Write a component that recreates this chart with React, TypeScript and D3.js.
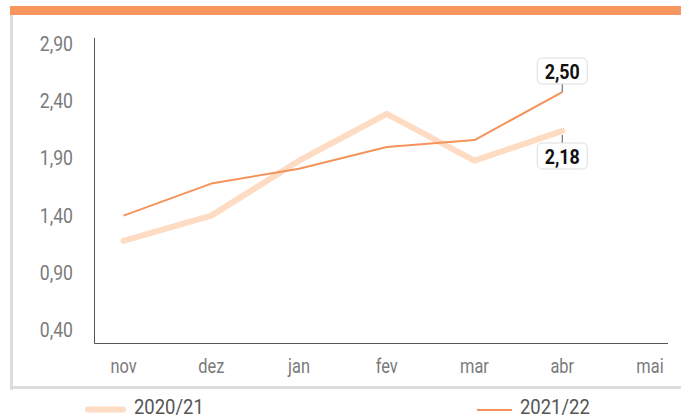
import React from "react";
import * as d3 from "d3";

const months = ["nov", "dez", "jan", "fev", "mar", "abr", "mai"];
const yTicks = [0.4, 0.9, 1.4, 1.9, 2.4, 2.9];
const series2021 = [1.18, 1.40, 1.88, 2.29, 1.88, 2.14];
const series2122 = [1.40, 1.68, 1.81, 2.00, 2.06, 2.48];
const seriesNames = ["2020/21", "2021/22"];
const endLabels = ["2,50", "2,18"];

const W = 681;
const H = 420;
const FONT = "Roboto, 'Liberation Sans', sans-serif";

function CText(props: {
  x: number;
  y: number;
  sx: number;
  size: number;
  anchor?: "start" | "middle" | "end";
  weight?: number;
  fill: string;
  children: React.ReactNode;
}) {
  return (
    <text
      transform={`translate(${props.x},${props.y}) scale(${props.sx},1)`}
      textAnchor={props.anchor || "start"}
      dominantBaseline="central"
      fontSize={props.size}
      fontWeight={props.weight || 400}
      fill={props.fill}
    >
      {props.children}
    </text>
  );
}

export default function App() {
  const x = d3.scalePoint<string>().domain(months).range([123.5, 650]);
  const y = d3.scaleLinear().domain([0.4, 2.9]).range([330, 44]);
  const fmt = (v: number) => v.toFixed(2).replace(".", ",");
  const line = d3
    .line<number>()
    .x((_, i) => x(months[i]) as number)
    .y((d) => y(d));

  const last = series2122.length - 1;
  const ax = x(months[last]) as number;
  const yTop = y(series2122[last]);
  const yBot = y(series2021[last]);

  return (
    <svg
      width={W}
      height={H}
      style={{ position: "absolute", left: 0, top: 0, background: "#fff" }}
      fontFamily={FONT}
    >
      <rect x={10} y={6} width={W - 10} height={9} fill="#F7975F" />
      <rect x={10} y={15} width={3} height={375} fill="#DCDCDC" />
      <rect x={10} y={386} width={W - 10} height={3} fill="#DCDCDC" />

      <line x1={94.5} x2={94.5} y1={38} y2={343.5} stroke="#555" strokeWidth={1} />
      <line x1={94.5} x2={668} y1={343.5} y2={343.5} stroke="#555" strokeWidth={1} />

      {yTicks.map((t) => (
        <CText key={t} x={73} y={y(t)} sx={0.84} size={21} anchor="end" fill="#7a7a7a">
          {fmt(t)}
        </CText>
      ))}
      {months.map((m) => (
        <CText key={m} x={x(m) as number} y={366} sx={0.78} size={21} anchor="middle" fill="#7a7a7a">
          {m}
        </CText>
      ))}

      <path
        d={line(series2021) || ""}
        fill="none"
        stroke="#FDDCC3"
        strokeWidth={6}
        strokeLinecap="round"
        strokeLinejoin="round"
      />
      <path
        d={line(series2122) || ""}
        fill="none"
        stroke="#F4935A"
        strokeWidth={2}
        strokeLinejoin="round"
      />

      <line x1={ax} x2={ax} y1={84} y2={yTop} stroke="#555" strokeWidth={1} />
      <rect x={ax - 25} y={58} width={50} height={26} rx={5} fill="#fff" stroke="#DDD" />
      <CText x={ax} y={71.5} sx={0.85} size={21} anchor="middle" weight={700} fill="#111">
        {endLabels[0]}
      </CText>
      <line x1={ax} x2={ax} y1={yBot + 4} y2={143} stroke="#555" strokeWidth={1} />
      <rect x={ax - 25} y={143} width={50} height={26} rx={5} fill="#fff" stroke="#DDD" />
      <CText x={ax} y={156.5} sx={0.85} size={21} anchor="middle" weight={700} fill="#111">
        {endLabels[1]}
      </CText>

      <line x1={88} x2={123} y1={409.5} y2={409.5} stroke="#FDDCC3" strokeWidth={6} strokeLinecap="round" />
      <CText x={134} y={407.5} sx={0.9} size={20.5} fill="#555">
        {seriesNames[0]}
      </CText>
      <line x1={477} x2={512} y1={410} y2={410} stroke="#F4935A" strokeWidth={2} />
      <CText x={520} y={407.5} sx={0.9} size={20.5} fill="#555">
        {seriesNames[1]}
      </CText>
    </svg>
  );
}
